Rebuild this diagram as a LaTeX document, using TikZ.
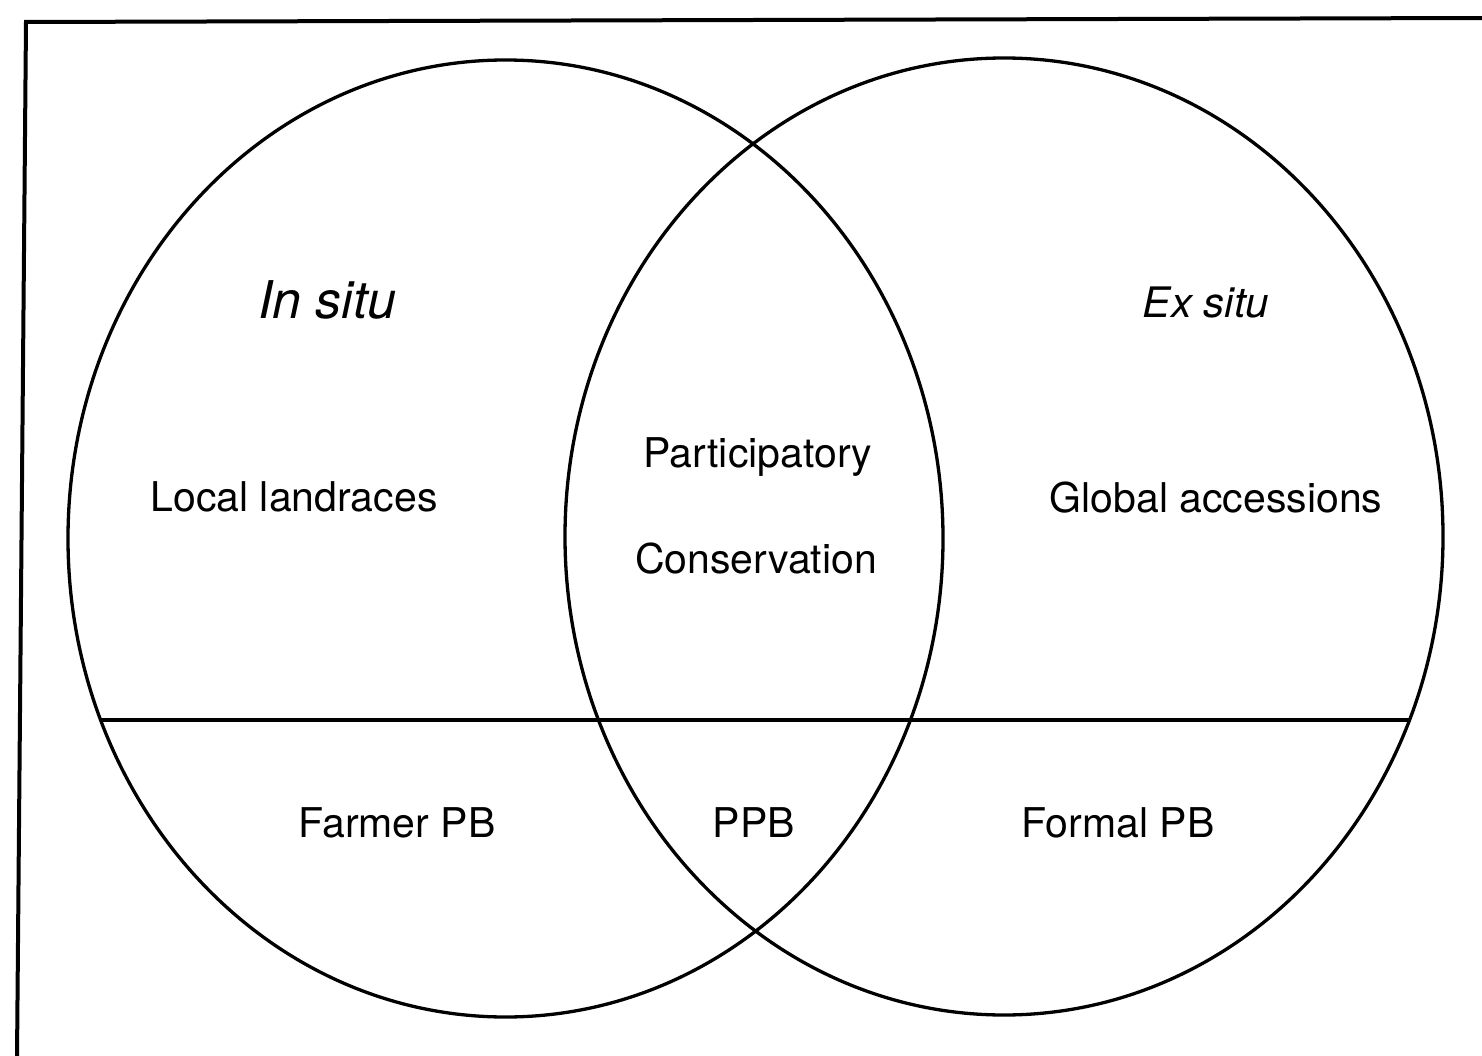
\documentclass[tikz,border=0pt]{standalone}
\usepackage{fontspec}
\setmainfont{TeX Gyre Heros}
\begin{document}
\begin{tikzpicture}[x=1pt,y=-1pt,
  ring/.style={draw=black,line width=3.3pt},
  divider/.style={draw=black,line width=3.8pt},
  frameline/.style={draw=black,line width=4pt},
  lbl/.style={inner sep=0pt,anchor=base,font=\fontsize{41}{49}\selectfont},
  ilbl/.style={inner sep=0pt,anchor=base,font=\fontsize{42}{50}\selectfont\itshape}]
\useasboundingbox (0,0) rectangle (1482,1056);
% frame
\coordinate (fc) at (26,22);
\coordinate (ftr) at (1484,18);
\coordinate (fbl) at (17,1058);
\draw[frameline] (ftr) -- (fc) -- (fbl);
% ellipses
\draw[ring] (505.5,538.5) ellipse [x radius=437.5, y radius=478.5];
\draw[ring] (1004,536.5) ellipse [x radius=439, y radius=478.5];
% horizontal divider
\coordinate (hl) at (100.7,720);
\coordinate (hr) at (1409.5,720);
\draw[divider] (hl) -- (hr);
% labels
\node[ilbl,font=\fontsize{52}{60}\selectfont\itshape] (insitu) at (327.5,319) {In situ};
\node[ilbl] (exsitu) at (1206,318) {Ex situ};
\node[lbl] (local) at (294,511) {Local landraces};
\node[lbl] (partic) at (758,467) {Participatory};
\node[lbl] (conserv) at (756,573) {Conservation};
\node[lbl] (global) at (1216,512) {Global accessions};
\node[lbl] (farmer) at (397,837) {Farmer PB};
\node[lbl] (ppb) at (754,837) {PPB};
\node[lbl] (formal) at (1118,837) {Formal PB};
\end{tikzpicture}
\end{document}
